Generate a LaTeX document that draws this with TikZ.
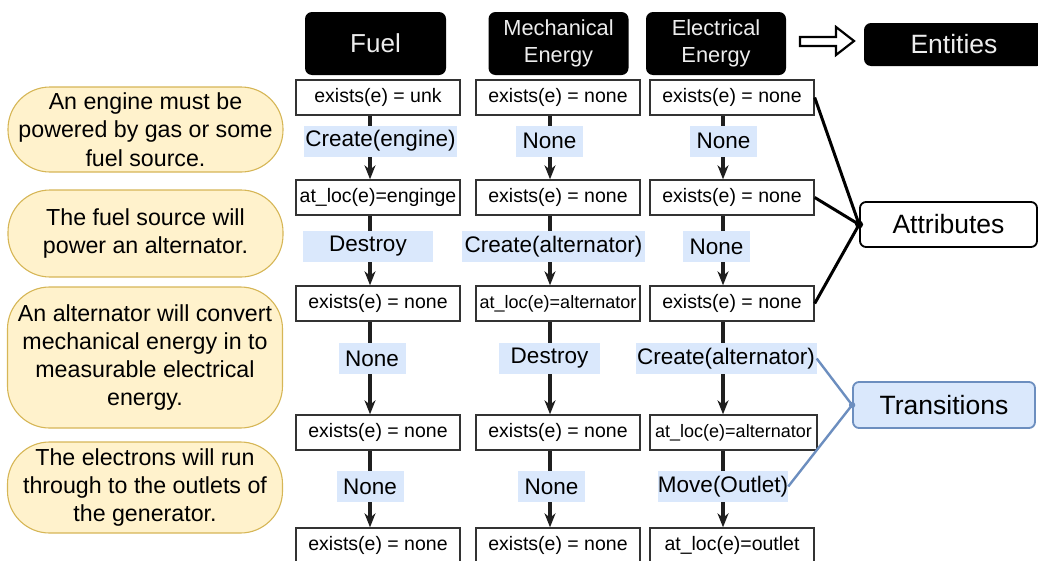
\documentclass[tikz,border=0pt]{standalone}
\usepackage{fontspec}
\setmainfont{Liberation Sans}
\usetikzlibrary{arrows.meta}
\definecolor{notefill}{HTML}{FFF2CC}
\definecolor{notedraw}{HTML}{D6B656}
\definecolor{actfill}{HTML}{DAE8FC}
\definecolor{actdraw}{HTML}{6C8EBF}
\begin{document}
\begin{tikzpicture}[x=1pt,y=-1pt,
  head/.style={fill=black,text=white!93!black,rounded corners=7pt,minimum width=140pt,minimum height=63pt,inner sep=0pt,align=center,font=\fontsize{21.8}{27.5}\selectfont},
  state/.style={draw=black!80,line width=1.4pt,fill=white,minimum width=164pt,minimum height=35pt,inner sep=0pt,font=\fontsize{19.5}{22}\selectfont},
  act/.style={fill=actfill,minimum width=67pt,minimum height=31pt,inner sep=0pt,font=\fontsize{22.5}{26}\selectfont},
  note/.style={draw=notedraw,fill=notefill,line width=1.1pt,rounded corners=42pt,minimum width=275pt,inner sep=0pt,align=center,font=\fontsize{23.2}{28.3}\selectfont},
  tag/.style={draw=black,line width=1.8pt,fill=white,rounded corners=6pt,minimum height=45pt,inner sep=0pt,font=\fontsize{26.5}{30}\selectfont},
  flow/.style={line width=3.2pt,draw=black!88,-{Stealth[length=14pt,width=11pt,inset=4.5pt]}}]
\useasboundingbox (0,0) rectangle (1038,560);
\clip (0,0) rectangle (1038,560);

\node[head,font=\fontsize{26}{30}\selectfont,minimum width=141pt] (fuel) at (375.5,43.5) {Fuel};
\node[head] (mech) at (558.5,43.5) {Mechanical\\Energy};
\node[head] (elec) at (716,43.5) {Electrical\\Energy};
\node[head,minimum width=180pt,minimum height=43pt,font=\fontsize{26.5}{30}\selectfont] (ent) at (954,44.5) {Entities};
\draw[line width=2.2pt,fill=white] (800,37) -- (836,37) -- (836,27) -- (854,41) -- (836,55) -- (836,46) -- (800,46) -- cycle;

\node[note,minimum height=85pt] (n1) at (145.5,129.5) {An engine must be\\powered by gas or some\\fuel source.};
\node[note,minimum height=87pt] (n2) at (145.5,233.5) {The fuel source will\\power an alternator.};
\node[note,minimum height=141pt] (n3) at (145,357.5) {An alternator will convert\\mechanical energy in to\\measurable electrical\\energy.};
\node[note,minimum height=91pt] (n4) at (145,487.5) {The electrons will run\\through to the outlets of\\the generator.};

\node[state] (f1) at (378,97.5) {exists(e) = unk};
\node[state] (f2) at (378,197.5) {at\_loc(e)=enginge};
\node[state] (f3) at (378,303.5) {exists(e) = none};
\node[state] (f4) at (378,432.5) {exists(e) = none};
\node[state] (f5) at (378,545.5) {exists(e) = none};
\node[state] (m1) at (558,97.5) {exists(e) = none};
\node[state] (m2) at (558,197.5) {exists(e) = none};
\node[state,font=\fontsize{18}{21}\selectfont] (m3) at (558,303.5) {at\_loc(e)=alternator};
\node[state] (m4) at (558,432.5) {exists(e) = none};
\node[state] (m5) at (558,545.5) {exists(e) = none};
\node[state] (e1) at (732,97.5) {exists(e) = none};
\node[state] (e2) at (732,197.5) {exists(e) = none};
\node[state] (e3) at (732,303.5) {exists(e) = none};
\node[state,font=\fontsize{18}{21}\selectfont,minimum width=167pt] (e4) at (733.5,432.5) {at\_loc(e)=alternator};
\node[state] (e5) at (732,545.5) {at\_loc(e)=outlet};

\draw[flow] ([xshift=-8pt]f1.south) -- ([xshift=-8pt]f2.north);
\draw[flow] ([xshift=-8pt]f2.south) -- ([xshift=-8pt]f3.north);
\draw[flow] ([xshift=-8pt]f3.south) -- ([xshift=-8pt]f4.north);
\draw[flow] ([xshift=-8pt]f4.south) -- ([xshift=-8pt]f5.north);
\draw[flow] ([xshift=-8pt]m1.south) -- ([xshift=-8pt]m2.north);
\draw[flow] ([xshift=-8pt]m2.south) -- ([xshift=-8pt]m3.north);
\draw[flow] ([xshift=-8pt]m3.south) -- ([xshift=-8pt]m4.north);
\draw[flow] ([xshift=-8pt]m4.south) -- ([xshift=-8pt]m5.north);
\draw[flow] ([xshift=-9pt]e1.south) -- ([xshift=-9pt]e2.north);
\draw[flow] ([xshift=-9pt]e2.south) -- ([xshift=-9pt]e3.north);
\draw[flow] ([xshift=-9pt]e3.south) -- ([xshift=-10.5pt]e4.north);
\draw[flow] ([xshift=-10.5pt]e4.south) -- ([xshift=-9pt]e5.north);

\node[act,minimum width=153pt] (ft1) at (380.5,141) {Create(engine)};
\node[act,minimum width=130pt] (ft2) at (368,246.5) {Destroy};
\node[act] (ft3) at (372,358.5) {None};
\node[act] (ft4) at (370,486.5) {None};
\node[act] (mt1) at (549.5,141) {None};
\node[act,minimum width=183pt] (mt2) at (553.5,246.5) {Create(alternator)};
\node[act,minimum width=101pt] (mt3) at (549.5,358.5) {Destroy};
\node[act] (mt4) at (551.5,486.5) {None};
\node[act] (et1) at (723.5,141) {None};
\node[act] (et2) at (716.5,246.5) {None};
\node[act,minimum width=181pt] (et3) at (726,358.5) {Create(alternator)};
\node[act,minimum width=130pt] (et4) at (723,486.5) {Move(Outlet)};

\node[tag,minimum width=177pt] (attr) at (948.5,224.5) {Attributes};
\draw[line width=3pt] (e1.east) -- (attr.west);
\draw[line width=3pt] (e2.east) -- (attr.west);
\draw[line width=3pt] (e3.east) -- (attr.west);
\fill (attr.west) circle (4pt);

\node[tag,draw=actdraw,fill=actfill,minimum width=182pt,minimum height=46pt] (trans) at (944,405) {Transitions};
\draw[actdraw,line width=2.4pt] (et3.east) -- (trans.west);
\draw[actdraw,line width=2.4pt] (et4.east) -- (trans.west);
\fill[actdraw] (trans.west) circle (3.2pt);
\end{tikzpicture}
\end{document}
